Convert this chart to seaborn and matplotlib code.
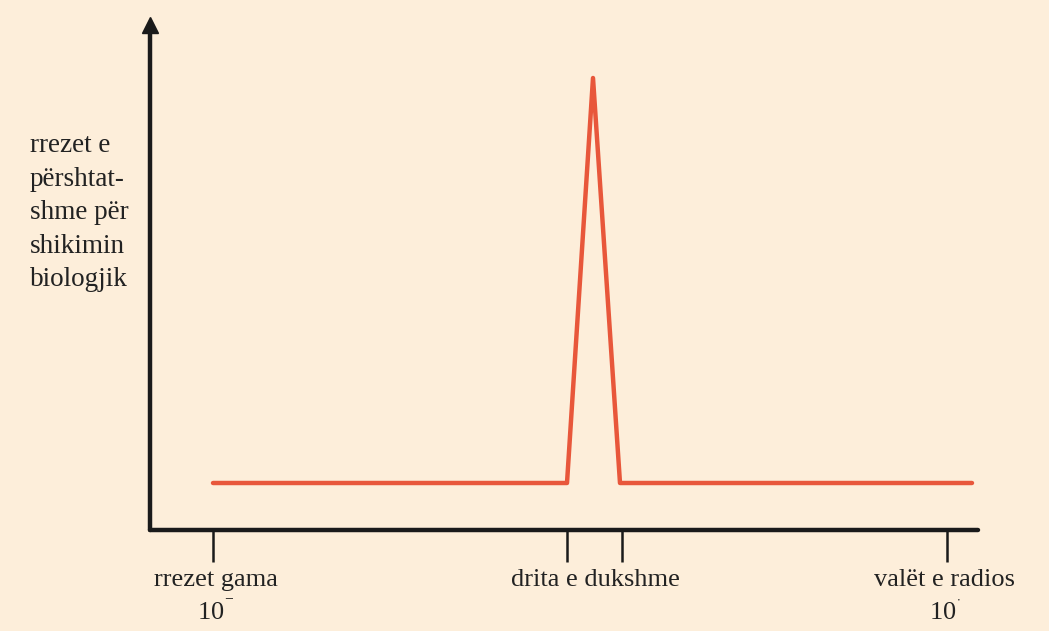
import matplotlib
matplotlib.use("Agg")
import matplotlib.pyplot as plt
import seaborn as sns
import pandas as pd

# ── Data (x in arbitrary wavelength units) ────────────────────────────────────
curve_x = [63, 417, 443, 470, 822]
curve_y = [47, 47, 452, 47, 47]

tick_pos = [63, 417, 472, 797]
label_pos = [66, 445, 795]
label_text = ["rrezet gama\n10$^{^{-}}$", "drita e dukshme", "valët e radios\n10$^{^{\\cdot}}$"]

ylabel_text = "rrezet e\npërshtat-\nshme për\nshikimin\nbiologjik"

BG = "#fdeeda"
LINE = "#e8573b"
INK = "#1a1a1a"

sns.set_style("white")
plt.rcParams["font.family"] = ["Liberation Serif", "DejaVu Serif"]
plt.rcParams["mathtext.fontset"] = "stix"

fig = plt.figure(figsize=(10.49, 6.31), dpi=100, facecolor=BG)
ax = fig.add_axes([150 / 1049, 101 / 631, 828 / 1049, 505 / 631])
ax.set_facecolor(BG)

df = pd.DataFrame({"x": curve_x, "y": curve_y})
sns.lineplot(data=df, x="x", y="y", color=LINE, linewidth=3.2, sort=False, ax=ax)

ax.set_xlim(0, 828)
ax.set_ylim(0, 505)

for side in ["top", "right"]:
    ax.spines[side].set_visible(False)
for side in ["left", "bottom"]:
    ax.spines[side].set_linewidth(3.2)
    ax.spines[side].set_color(INK)
    ax.spines[side].set_capstyle("round")

# arrow head on the y axis
ax.plot(0, 1, marker="^", markersize=11, color=INK, transform=ax.transAxes,
        clip_on=False)

ax.set_yticks([])
ax.set_xticks(tick_pos, minor=True)
ax.set_xticks(label_pos)
ax.set_xticklabels(label_text, fontsize=19, color="#222222", linespacing=1.5,
                   va="top")
ax.tick_params(axis="x", which="minor", bottom=True, length=23, width=1.8,
               color=INK, direction="out")
ax.tick_params(axis="x", which="major", bottom=True, length=0, pad=28)
ax.set_xlabel("")
ax.set_ylabel("")

fig.text(30 / 1049, 1 - 133 / 631, ylabel_text, fontsize=19.5, color="#222222",
         ha="left", va="top", linespacing=1.45)

fig.savefig("out.png", dpi=100, facecolor=BG)
